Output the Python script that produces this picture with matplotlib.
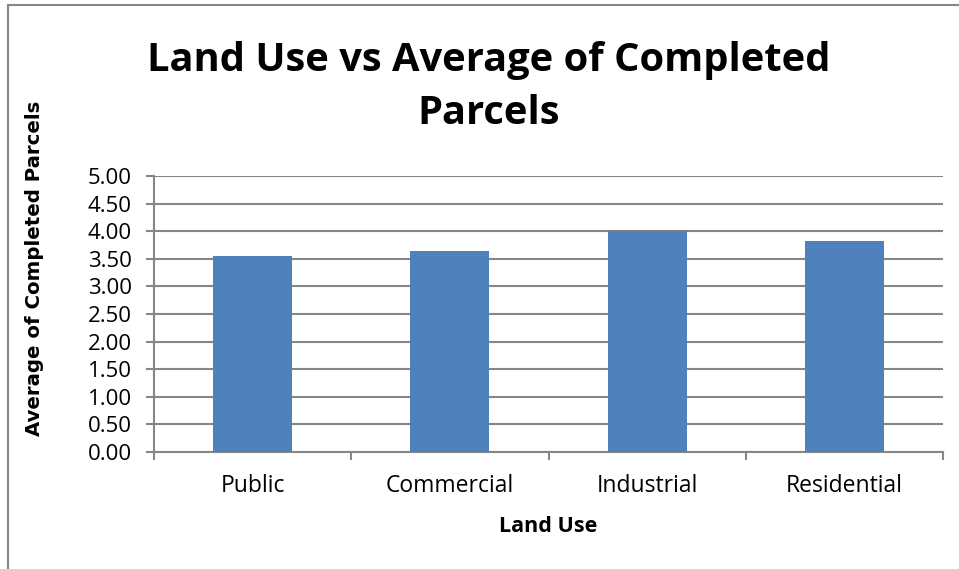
import matplotlib
matplotlib.use("Agg")
import matplotlib.pyplot as plt
from matplotlib.lines import Line2D

land_use = ["Public", "Commercial", "Industrial", "Residential"]
avg_completed = [3.55, 3.65, 4.00, 3.82]
y_ticks = [0.0, 0.5, 1.0, 1.5, 2.0, 2.5, 3.0, 3.5, 4.0, 4.5, 5.0]

bar_color = "#4F81BD"
grid_color = "#868686"
font = ["Open Sans", "DejaVu Sans"]

fig = plt.figure(figsize=(9.59, 5.69), dpi=100)
ax = fig.add_axes([0.1606, 0.2056, 0.8227, 0.4851])

x = list(range(len(land_use)))
ax.bar(x, avg_completed, width=0.4, color=bar_color, zorder=3)

ax.set_xlim(-0.5, len(land_use) - 0.5)
ax.set_ylim(0, 5)
ax.set_yticks(y_ticks)
ax.set_yticklabels([f"{v:.2f}" for v in y_ticks], fontfamily=font, fontsize=16)
ax.yaxis.grid(True, color=grid_color, linewidth=1.5, zorder=0)

# category labels at centres, tick marks on the boundaries
ax.set_xticks(x)
ax.set_xticklabels(land_use, fontfamily=font, fontsize=16.5)
ax.tick_params(axis="x", length=0, pad=16)
ax.set_xticks([i - 0.5 for i in range(len(land_use) + 1)], minor=True)
ax.tick_params(axis="x", which="minor", length=6, width=1.5, color=grid_color)
ax.tick_params(axis="y", length=6, width=1.5, color=grid_color, pad=10)

for side in ["top", "right"]:
    ax.spines[side].set_visible(False)
for side in ["left", "bottom"]:
    ax.spines[side].set_color(grid_color)
    ax.spines[side].set_linewidth(1.5)

fig.text(548 / 959, 1 - 527 / 569, "Land Use", ha="center", va="center",
         fontfamily=font, fontsize=15.5, fontweight="bold")
fig.text(35 / 959, 1 - 268 / 569, "Average of Completed Parcels", ha="center", va="center",
         rotation=90, fontfamily="DejaVu Sans", fontsize=14.2, fontweight="bold")

fig.text(0.51, 1 - 87 / 569, "Land Use vs Average of Completed\nParcels", ha="center",
         va="center", fontfamily=font, fontsize=28.7, fontweight="bold", linespacing=1.45)

# chart frame (top and left edges)
fig.add_artist(Line2D([8 / 959, 1], [564 / 569, 564 / 569], color=grid_color, linewidth=1.5))
fig.add_artist(Line2D([8 / 959, 8 / 959], [0, 564 / 569], color=grid_color, linewidth=1.5))

fig.savefig("out.png", dpi=100)
